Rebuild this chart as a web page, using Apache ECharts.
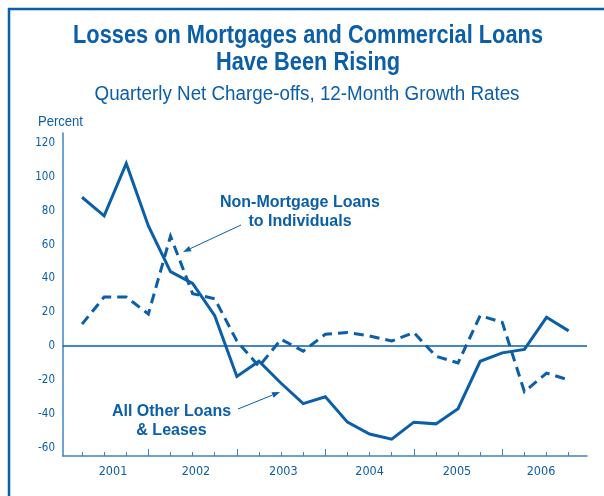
<!DOCTYPE html>
<html>
<head>
<meta charset="utf-8">
<script src="https://cdn.jsdelivr.net/npm/echarts@6/dist/echarts.min.js"></script>
<style>
  html, body { margin: 0; padding: 0; background: #ffffff; }
  #chart { width: 604px; height: 496px; }
</style>
</head>
<body>
<div id="chart"></div>
<script>
// Quarterly observations, 2001 Q1 through 2006 Q3
const quarters = [
  '2001Q1', '2001Q2', '2001Q3', '2001Q4',
  '2002Q1', '2002Q2', '2002Q3', '2002Q4',
  '2003Q1', '2003Q2', '2003Q3', '2003Q4',
  '2004Q1', '2004Q2', '2004Q3', '2004Q4',
  '2005Q1', '2005Q2', '2005Q3', '2005Q4',
  '2006Q1', '2006Q2', '2006Q3'
];

// 12-month growth rates of net charge-offs, percent
const allOtherLoans = [
  88, 77, 108, 71, 44, 37, 18, -18,
  -9, -22, -34, -30, -45, -52, -55, -45,
  -46, -37, -9, -4, -2, 17, 9
];
const nonMortgageLoans = [
  13, 29, 29, 19, 65, 31, 28, 3,
  -12, 4, -3, 7, 8, 6, 3, 8,
  -6, -10, 18, 14, -27, -16, -20
];

const yearLabels = ['2001', '2002', '2003', '2004', '2005', '2006'];
const yTickLabels = [-60, -40, -20, 0, 20, 40, 60, 80, 100, 120];

const BLUE = '#0b5ea8';
const AXIS_BLUE = '#3f82c2';
const NARROW = '"DejaVu Sans Condensed", "Liberation Sans Narrow", sans-serif';
const SANS = '"Liberation Sans", Arial, sans-serif';

// quarter ticks under every observation, longer ticks at each fourth quarter
const quarterTicks = quarters.map((q, i) => i);
const yearEndTicks = quarterTicks.filter(i => quarters[i].endsWith('Q4'));
// year labels sit under the middle of each calendar year's quarters
const yearLabelPos = [1.4, 5.15, 9.1, 13.0, 16.95, 20.75];

const measureCtx = document.createElement('canvas').getContext('2d');
function textWidth(text, font) {
  measureCtx.font = font;
  return measureCtx.measureText(text).width;
}

function arrow(x1, y1, x2, y2) {
  const ang = Math.atan2(y2 - y1, x2 - x1);
  const len = 8, half = 3;
  const bx = x2 - len * Math.cos(ang), by = y2 - len * Math.sin(ang);
  const px = -Math.sin(ang) * half, py = Math.cos(ang) * half;
  return [
    { type: 'line', silent: true, shape: { x1: x1, y1: y1, x2: bx, y2: by },
      style: { stroke: BLUE, lineWidth: 1 } },
    { type: 'polygon', silent: true,
      shape: { points: [[x2, y2], [bx + px, by + py], [bx - px, by - py]] },
      style: { fill: BLUE } }
  ];
}

function label(text, x, y, font, align, scaleX) {
  return {
    type: 'text', silent: true, x: x, y: y, scaleX: scaleX || 1,
    style: { text: text, fill: BLUE, font: font, align: align || 'center', verticalAlign: 'middle' }
  };
}

// headings are set in a condensed cut: squeeze the regular face horizontally
const titleFont = 'bold 25px ' + SANS;
const titleText1 = 'Losses on Mortgages and Commercial Loans';
const titleText2 = 'Have Been Rising';
const titleSqueeze = 470 / textWidth(titleText1, titleFont);
const subFont = '20px ' + SANS;
const subText = 'Quarterly Net Charge-offs, 12-Month Growth Rates';
const subSqueeze = 425 / textWidth(subText, subFont);
const unitFont = '14px ' + SANS;
const unitSqueeze = 45 / textWidth('Percent', unitFont);

const chart = echarts.init(document.getElementById('chart'), null, { renderer: 'canvas' });

chart.setOption({
  animation: false,
  backgroundColor: '#ffffff',
  grid: { left: 63, right: 17, top: 133, bottom: 40 },
  xAxis: [
    {
      type: 'value', min: -0.86, max: 22.83,
      axisLine: { show: true, onZero: false, lineStyle: { color: AXIS_BLUE, width: 1.5 } },
      axisTick: { show: true, inside: true, length: 4, customValues: quarterTicks,
                  lineStyle: { color: AXIS_BLUE, width: 1 } },
      axisLabel: {
        show: true, customValues: yearLabelPos, margin: 9,
        color: BLUE, fontFamily: NARROW, fontSize: 12.5,
        formatter: function (v) {
          let best = 0;
          yearLabelPos.forEach((p, i) => { if (Math.abs(p - v) < Math.abs(yearLabelPos[best] - v)) best = i; });
          return yearLabels[best];
        }
      },
      splitLine: { show: false }
    },
    {
      type: 'value', min: -0.86, max: 22.83, position: 'bottom',
      axisLine: { show: false, onZero: false },
      axisTick: { show: true, inside: true, length: 7, customValues: yearEndTicks,
                  lineStyle: { color: AXIS_BLUE, width: 1 } },
      axisLabel: { show: false },
      splitLine: { show: false }
    }
  ],
  yAxis: {
    type: 'value', min: -65, max: 126,
    axisLine: { show: true, onZero: false, lineStyle: { color: AXIS_BLUE, width: 1.5 } },
    axisTick: { show: false },
    axisLabel: { customValues: yTickLabels, margin: 8, color: BLUE, fontFamily: NARROW, fontSize: 11.5 },
    splitLine: { show: false }
  },
  series: [
    {
      name: 'All Other Loans & Leases', type: 'line', xAxisIndex: 0,
      data: allOtherLoans.map((v, i) => [i, v]),
      symbol: 'none',
      lineStyle: { color: BLUE, width: 3, join: 'miter', miterLimit: 10 },
      markLine: {
        silent: true, symbol: 'none', label: { show: false },
        lineStyle: { color: BLUE, width: 1.5, type: 'solid' },
        data: [{ yAxis: 0 }]
      },
      z: 3
    },
    {
      name: 'Non-Mortgage Loans to Individuals', type: 'line', xAxisIndex: 0,
      data: nonMortgageLoans.map((v, i) => [i, v]),
      symbol: 'none',
      lineStyle: { color: BLUE, width: 3, type: [10, 6], join: 'miter', miterLimit: 10 },
      z: 3
    }
  ],
  graphic: [
    // frame
    { type: 'line', silent: true, shape: { x1: 8, y1: 9, x2: 604, y2: 9 }, style: { stroke: BLUE, lineWidth: 2.5 } },
    { type: 'line', silent: true, shape: { x1: 9, y1: 8, x2: 9, y2: 496 }, style: { stroke: BLUE, lineWidth: 2.5 } },
    // headings
    label(titleText1, 308, 36, titleFont, 'center', titleSqueeze),
    label(titleText2, 308, 63, titleFont, 'center', titleSqueeze),
    label(subText, 307, 94, subFont, 'center', subSqueeze),
    label('Percent', 38, 122, unitFont, 'left', unitSqueeze),
    // series annotations
    label('Non-Mortgage Loans', 300, 203, 'bold 16px ' + SANS),
    label('to Individuals', 300, 221.5, 'bold 16px ' + SANS),
    label('All Other Loans', 171.5, 412, 'bold 16px ' + SANS),
    label('& Leases', 171.5, 431, 'bold 16px ' + SANS)
  ].concat(arrow(241, 225, 183, 252), arrow(238, 409, 280, 392))
});
</script>
</body>
</html>
